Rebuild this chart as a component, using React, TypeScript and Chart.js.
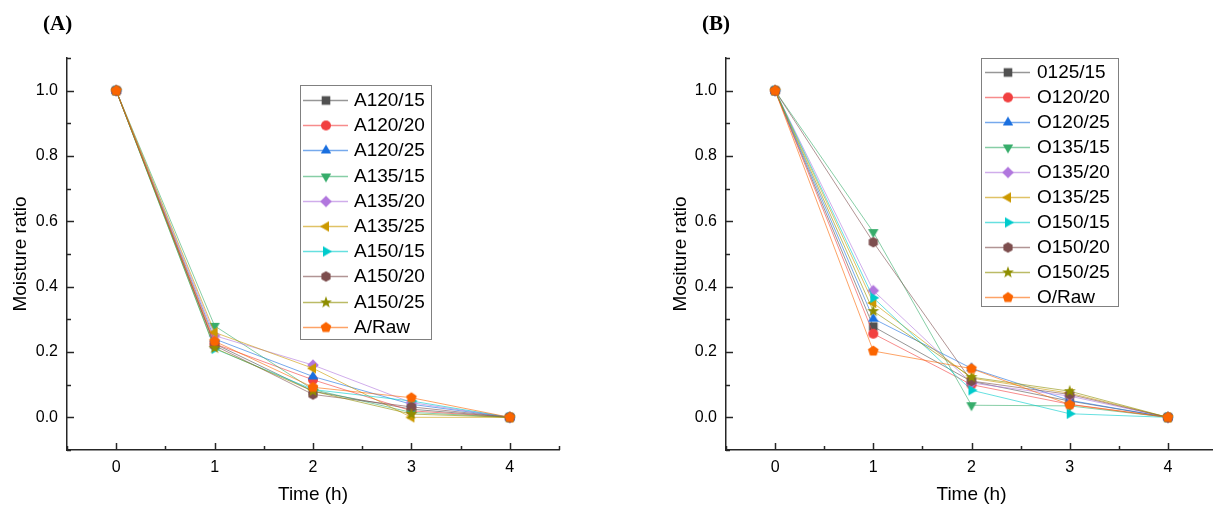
import React, { useEffect, useRef } from 'react';
import { Chart, registerables } from 'chart.js';

Chart.register(...registerables);

// ---------------- data ----------------
const TIME = [0, 1, 2, 3, 4];
const X_TICKS = [0, 1, 2, 3, 4];
const X_MINOR = [-0.5, 0.5, 1.5, 2.5, 3.5, 4.5];
const Y_TICKS = [0, 0.2, 0.4, 0.6, 0.8, 1.0];
const Y_MINOR = [-0.1, 0.1, 0.3, 0.5, 0.7, 0.9, 1.1];

const A_LABELS = ['A120/15', 'A120/20', 'A120/25', 'A135/15', 'A135/20', 'A135/25', 'A150/15', 'A150/20', 'A150/25', 'A/Raw'];
const A120_15 = [1, 0.225, 0.08, 0.025, 0];
const A120_20 = [1, 0.225, 0.115, 0.02, 0];
const A120_25 = [1, 0.24, 0.125, 0.04, 0];
const A135_15 = [1, 0.28, 0.085, 0.015, 0];
const A135_20 = [1, 0.25, 0.16, 0.045, 0];
const A135_25 = [1, 0.26, 0.15, 0.0, 0];
const A150_15 = [1, 0.21, 0.085, 0.05, 0];
const A150_20 = [1, 0.22, 0.07, 0.032, 0];
const A150_25 = [1, 0.212, 0.08, 0.01, 0];
const A_RAW = [1, 0.233, 0.092, 0.06, 0];

const B_LABELS = ['0125/15', 'O120/20', 'O120/25', 'O135/15', 'O135/20', 'O135/25', 'O150/15', 'O150/20', 'O150/25', 'O/Raw'];
const O125_15 = [1, 0.278, 0.11, 0.05, 0];
const O120_20 = [1, 0.256, 0.1, 0.04, 0];
const O120_25 = [1, 0.302, 0.15, 0.052, 0];
const O135_15 = [1, 0.567, 0.037, 0.035, 0];
const O135_20 = [1, 0.388, 0.105, 0.065, 0];
const O135_25 = [1, 0.35, 0.12, 0.074, 0];
const O150_15 = [1, 0.366, 0.083, 0.011, 0];
const O150_20 = [1, 0.536, 0.111, 0.07, 0];
const O150_25 = [1, 0.325, 0.123, 0.08, 0];
const O_RAW = [1, 0.203, 0.149, 0.039, 0];

const A_SERIES = [A120_15, A120_20, A120_25, A135_15, A135_20, A135_25, A150_15, A150_20, A150_25, A_RAW];
const B_SERIES = [O125_15, O120_20, O120_25, O135_15, O135_20, O135_25, O150_15, O150_20, O150_25, O_RAW];

// ---------------- styles ----------------
const COLORS = ['#515151', '#F14040', '#1A6FDF', '#37AD6B', '#B177DE', '#CC9900', '#00CBCC', '#7D4E4E', '#8E8E00', '#FB6501'];
const SHAPES = ['square', 'circle', 'up', 'down', 'diamond', 'left', 'right', 'hexagon', 'star', 'pentagon'];
const SANS = '"Liberation Sans", Arial, sans-serif';
const AXIS_COLOR = '#262626';

function hexA(hex: string, a: number) {
  const r = parseInt(hex.slice(1, 3), 16);
  const g = parseInt(hex.slice(3, 5), 16);
  const b = parseInt(hex.slice(5, 7), 16);
  return `rgba(${r},${g},${b},${a})`;
}

function makeMarker(shape: string, color: string): HTMLCanvasElement {
  const s = 14;
  const c = document.createElement('canvas');
  c.width = s;
  c.height = s;
  const g = c.getContext('2d')!;
  g.fillStyle = color;
  g.translate(s / 2, s / 2);
  const poly = (n: number, r: number, rot: number) => {
    g.beginPath();
    for (let k = 0; k < n; k++) {
      const a = rot + (k * 2 * Math.PI) / n;
      g.lineTo(r * Math.cos(a), r * Math.sin(a));
    }
    g.closePath();
    g.fill();
  };
  switch (shape) {
    case 'square':
      g.fillRect(-4.3, -4.3, 8.6, 8.6);
      break;
    case 'circle':
      g.beginPath();
      g.arc(0, 0, 5, 0, Math.PI * 2);
      g.fill();
      break;
    case 'up':
      poly(3, 6, -Math.PI / 2);
      break;
    case 'down':
      poly(3, 6, Math.PI / 2);
      break;
    case 'left':
      poly(3, 6, Math.PI);
      break;
    case 'right':
      poly(3, 6, 0);
      break;
    case 'diamond':
      poly(4, 5.8, -Math.PI / 2);
      break;
    case 'hexagon':
      poly(6, 5.3, -Math.PI / 2);
      break;
    case 'pentagon':
      poly(5, 5.6, -Math.PI / 2);
      break;
    case 'star': {
      g.beginPath();
      for (let k = 0; k < 10; k++) {
        const r = k % 2 === 0 ? 6.3 : 2.6;
        const a = -Math.PI / 2 + (k * Math.PI) / 5;
        g.lineTo(r * Math.cos(a), r * Math.sin(a));
      }
      g.closePath();
      g.fill();
      break;
    }
  }
  return c;
}

type LegendBox = { x: number; y: number; w: number; h: number; first: number; step: number; l0: number; l1: number; tx: number };

const decorPlugin = {
  id: 'decor',
  afterDraw(chart: any, _args: any, opts: any) {
    const { ctx, chartArea, scales } = chart;
    const { left, bottom } = chartArea;
    const x = scales.x;
    const y = scales.y;
    ctx.save();
    ctx.strokeStyle = AXIS_COLOR;
    ctx.lineWidth = 1.5;
    const seg = (x0: number, y0: number, x1: number, y1: number) => {
      ctx.beginPath();
      ctx.moveTo(x0, y0);
      ctx.lineTo(x1, y1);
      ctx.stroke();
    };
    X_TICKS.forEach((v) => {
      const p = Math.round(x.getPixelForValue(v)) + 0.5;
      seg(p, bottom, p, bottom - 7);
    });
    X_MINOR.forEach((v) => {
      const p = Math.round(x.getPixelForValue(v)) + 0.5;
      seg(p, bottom, p, bottom - 4);
    });
    Y_TICKS.forEach((v) => {
      const p = Math.round(y.getPixelForValue(v)) + 0.5;
      seg(left, p, left + 7, p);
    });
    Y_MINOR.forEach((v) => {
      const p = Math.round(y.getPixelForValue(v)) + 0.5;
      seg(left, p, left + 4, p);
    });

    const L: LegendBox = opts.legend;
    const markers: HTMLCanvasElement[] = opts.markers;
    ctx.fillStyle = '#ffffff';
    ctx.fillRect(L.x, L.y, L.w, L.h);
    ctx.strokeStyle = '#808080';
    ctx.lineWidth = 1;
    ctx.strokeRect(L.x + 0.5, L.y + 0.5, L.w, L.h);
    ctx.font = `19px ${SANS}`;
    ctx.textBaseline = 'middle';
    ctx.textAlign = 'left';
    chart.data.datasets.forEach((ds: any, i: number) => {
      const cy = Math.round(L.first + i * L.step);
      ctx.strokeStyle = ds.borderColor;
      ctx.lineWidth = 1.5;
      seg(L.l0, cy + 0.5, L.l1, cy + 0.5);
      const m = markers[i];
      ctx.drawImage(m, Math.round((L.l0 + L.l1) / 2 - m.width / 2), cy - m.height / 2 + 0.5);
      ctx.fillStyle = '#000';
      ctx.fillText(ds.label, L.tx, cy + 1);
    });
    ctx.restore();
  },
};

function buildChart(canvas: HTMLCanvasElement, labels: string[], series: number[][], yTitle: string, padRight: number, yWidth: number, legend: LegendBox) {
  const markers = SHAPES.map((s, i) => makeMarker(s, COLORS[i]));
  const datasets = series.map((vals, i) => ({
    label: labels[i],
    data: TIME.map((t, j) => ({ x: t, y: vals[j] })),
    borderColor: hexA(COLORS[i], 0.6),
    backgroundColor: COLORS[i],
    borderWidth: 1,
    pointStyle: markers[i],
    pointRadius: 5,
    pointHoverRadius: 5,
    order: series.length - i,
    tension: 0,
    fill: false,
  }));
  return new Chart(canvas, {
    type: 'line',
    data: { datasets },
    plugins: [decorPlugin],
    options: {
      animation: false,
      responsive: false,
      maintainAspectRatio: false,
      events: [],
      layout: { padding: { top: 58, right: padRight, left: 0, bottom: 0 } },
      plugins: {
        legend: { display: false },
        tooltip: { enabled: false },
        decor: { legend, markers },
      } as any,
      scales: {
        x: {
          type: 'linear',
          min: -0.5,
          max: 4.5,
          afterBuildTicks: (s: any) => {
            s.ticks = X_TICKS.map((v) => ({ value: v }));
          },
          afterFit: (s: any) => {
            s.height = 57;
          },
          grid: { display: false, drawTicks: false },
          border: { display: true, color: AXIS_COLOR, width: 1.5 },
          ticks: {
            padding: 8,
            color: '#000',
            font: { family: SANS, size: 16 },
            maxRotation: 0,
            autoSkip: false,
            callback: (v: any) => String(v),
          },
          title: { display: true, text: 'Time (h)', color: '#000', font: { family: SANS, size: 19 }, padding: { top: 0, bottom: 1 } },
        },
        y: {
          type: 'linear',
          min: -0.1,
          max: 1.1,
          afterBuildTicks: (s: any) => {
            s.ticks = Y_TICKS.map((v) => ({ value: v }));
          },
          afterFit: (s: any) => {
            s.width = yWidth;
          },
          grid: { display: false, drawTicks: false },
          border: { display: true, color: AXIS_COLOR, width: 1.5 },
          ticks: {
            padding: 9,
            color: '#000',
            font: { family: SANS, size: 16 },
            autoSkip: false,
            callback: (v: any) => Number(v).toFixed(1),
          },
          title: { display: true, text: yTitle, color: '#000', font: { family: SANS, size: 19 }, padding: { top: 9, bottom: 0 } },
        },
      },
    } as any,
  });
}

export default function App() {
  const refA = useRef<HTMLCanvasElement>(null);
  const refB = useRef<HTMLCanvasElement>(null);

  useEffect(() => {
    const a = buildChart(refA.current!, A_LABELS, A_SERIES, 'Moisture ratio', 47, 67, {
      x: 300, y: 85, w: 131, h: 254, first: 100, step: 25.2, l0: 303, l1: 348, tx: 354,
    });
    const b = buildChart(refB.current!, B_LABELS, B_SERIES, 'Mositure ratio', 43, 66, {
      x: 321, y: 58, w: 137, h: 248, first: 72, step: 25, l0: 325, l1: 370, tx: 377,
    });
    return () => {
      a.destroy();
      b.destroy();
    };
  }, []);

  const panelLabel: React.CSSProperties = {
    position: 'absolute',
    top: 13,
    fontFamily: '"Liberation Serif", "Times New Roman", serif',
    fontWeight: 'bold',
    fontSize: 21,
    lineHeight: '21px',
    color: '#000',
  };

  return (
    <div style={{ position: 'fixed', left: 0, top: 0, width: 1213, height: 507, overflow: 'hidden', background: '#fff' }}>
      <canvas ref={refA} width={606} height={507} style={{ position: 'absolute', left: 0, top: 0, width: 606, height: 507 }} />
      <canvas ref={refB} width={600} height={507} style={{ position: 'absolute', left: 660, top: 0, width: 600, height: 507 }} />
      <div style={{ ...panelLabel, left: 43 }}>(A)</div>
      <div style={{ ...panelLabel, left: 702 }}>(B)</div>
    </div>
  );
}
